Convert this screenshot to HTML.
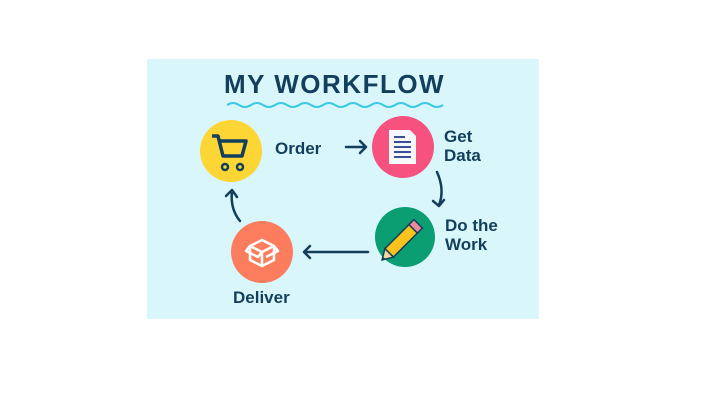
<!DOCTYPE html>
<html><head><style>
body{margin:0;width:710px;height:400px;background:#fff;position:relative;overflow:hidden;font-family:"Liberation Sans",sans-serif;}
.panel{position:absolute;left:147px;top:59px;width:392px;height:260px;background:#d9f7fb;}
.t{position:absolute;color:#133f5c;font-weight:bold;font-size:16px;line-height:19px;}
</style></head><body>
<div class="panel"></div>
<div class="t" style="left:224px;top:69px;font-size:26px;line-height:30px;letter-spacing:1.5px;">MY WORKFLOW</div>
<div class="t" style="left:275px;top:139px;font-size:17px;">Order</div>
<div class="t" style="left:444px;top:127px;font-size:17px;">Get<br>Data</div>
<div class="t" style="left:445px;top:216px;font-size:17px;">Do the<br>Work</div>
<div class="t" style="left:233px;top:288px;font-size:17px;">Deliver</div>
<svg width="710" height="400" style="position:absolute;left:0;top:0">
<path d="M227 105 q6 -4 12 0 t12 0 t12 0 t12 0 t12 0 t12 0 t12 0 t12 0 t12 0 t12 0 t12 0 t12 0 t12 0 t12 0 t12 0 t12 0 t12 0 t12 0" fill="none" stroke="#3cc8e6" stroke-width="2"/>
<circle cx="231" cy="151" r="31" fill="#fdd535"/>
<circle cx="403" cy="147" r="31" fill="#f7527f"/>
<circle cx="405" cy="237" r="30" fill="#0b9e72"/>
<circle cx="262" cy="252" r="31" fill="#fc7d5d"/>
<!-- cart -->
<path d="M212 136 h6 l5 20 h19 l4 -15 h-26" fill="none" stroke="#133f5c" stroke-width="3.5" stroke-linejoin="round"/>
<circle cx="225" cy="167" r="3" fill="none" stroke="#133f5c" stroke-width="2.5"/>
<circle cx="240" cy="167" r="3" fill="none" stroke="#133f5c" stroke-width="2.5"/>
<!-- doc -->
<path d="M389 130 h21 l6 6 v28 h-27z" fill="#f4f8fb"/>
<g stroke="#3c4d9a" stroke-width="2"><line x1="394" y1="137" x2="405" y2="137"/><line x1="394" y1="142" x2="411" y2="142"/><line x1="394" y1="147" x2="411" y2="147"/><line x1="394" y1="152" x2="411" y2="152"/><line x1="394" y1="157" x2="411" y2="157"/></g>
<!-- pencil -->
<g transform="rotate(-45 404 238)"><rect x="383" y="232" width="34" height="12" fill="#f7c31c" stroke="#133f5c" stroke-width="1.5"/><rect x="417" y="232" width="7" height="12" fill="#ee8a9c" stroke="#133f5c" stroke-width="1.5"/><path d="M383 232 l-10 6 l10 6z" fill="#f3d6a0" stroke="#133f5c" stroke-width="1.5"/><path d="M376 236 l-3 2 l3 2z" fill="#133f5c"/></g>
<!-- box -->
<g fill="none" stroke="#fff" stroke-width="2.5" stroke-linejoin="round"><path d="M250 246 l12 -6 l12 6 l-12 6z"/><path d="M250 246 v14 l12 6 l12 -6 v-14"/><path d="M262 252 v14"/><path d="M250 246 l-4 5 l12 6 l4 -5"/><path d="M274 246 l4 5 l-12 6"/></g>
<!-- arrows -->
<g fill="none" stroke="#133f5c" stroke-width="2.5" stroke-linecap="round" stroke-linejoin="round">
<path d="M346 147 h20 M360 141 l6 6 l-6 6"/>
<path d="M437 172 q8 18 2 33 M433 201 l6 5 l5 -6"/>
<path d="M368 252 h-64 M310 246 l-6 6 l6 6"/>
<path d="M240 221 q-10 -12 -8 -30 M226 196 l6 -6 l5 7"/>
</g>
</svg>
</body></html>
